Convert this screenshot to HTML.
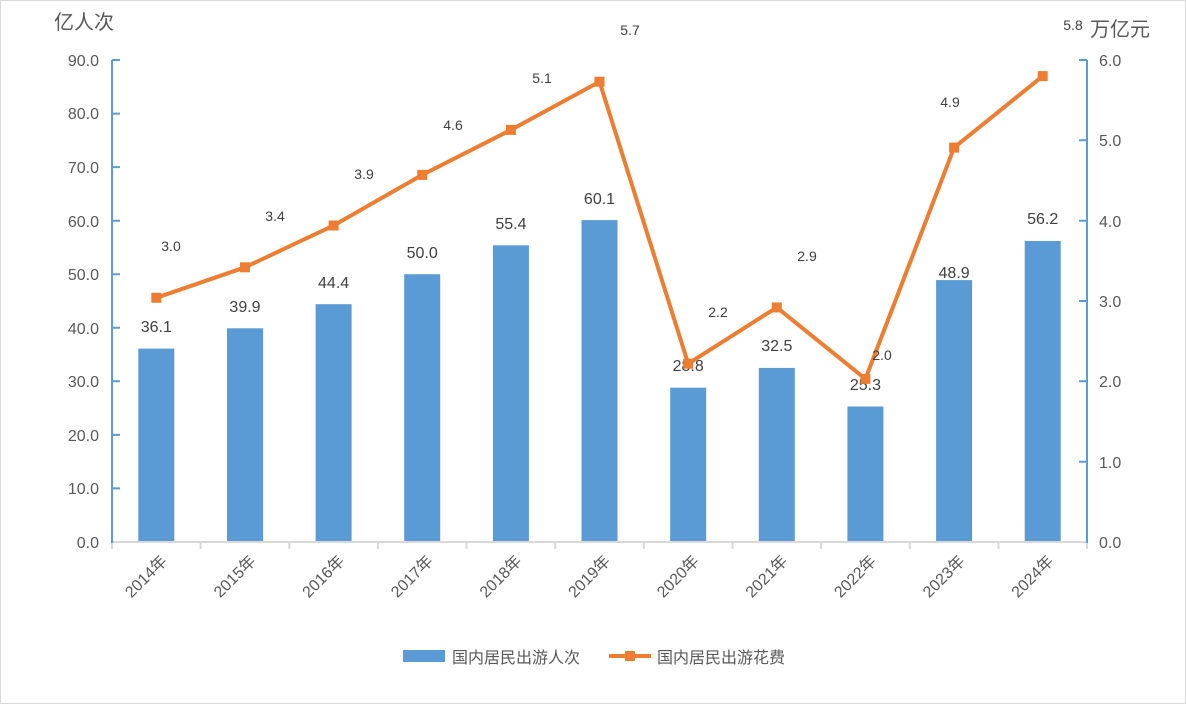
<!DOCTYPE html>
<html><head><meta charset="utf-8"><style>
html,body{margin:0;padding:0;background:#fff}
svg{display:block;font-family:"Liberation Sans","Noto Sans CJK SC",sans-serif}
</style></head><body>
<svg width="1186" height="704" viewBox="0 0 1186 704" xmlns="http://www.w3.org/2000/svg">
<rect x="0.5" y="0.5" width="1185" height="703" fill="#fff" stroke="#d9d9d9"/>
<text x="54" y="29" font-size="20" fill="#595959">亿人次</text>
<text x="1090" y="36" font-size="20" fill="#595959">万亿元</text>
<g font-size="16" fill="#595959" text-anchor="end">
<text x="99" y="548">0.0</text><text x="99" y="494">10.0</text><text x="99" y="441">20.0</text>
<text x="99" y="387">30.0</text><text x="99" y="334">40.0</text><text x="99" y="280">50.0</text>
<text x="99" y="227">60.0</text><text x="99" y="173">70.0</text><text x="99" y="119">80.0</text><text x="99" y="66">90.0</text>
</g>
<g font-size="16" fill="#595959">
<text x="1099" y="548">0.0</text><text x="1099" y="468">1.0</text><text x="1099" y="387">2.0</text>
<text x="1099" y="307">3.0</text><text x="1099" y="227">4.0</text><text x="1099" y="146">5.0</text><text x="1099" y="66">6.0</text>
</g>
<g fill="#5b9bd5">
<rect x="138.3" y="348.6" width="36" height="193.4"/>
<rect x="227" y="328.3" width="36" height="213.7"/>
<rect x="315.6" y="304.2" width="36" height="237.8"/>
<rect x="404.2" y="274.2" width="36" height="267.8"/>
<rect x="492.9" y="245.3" width="36" height="296.7"/>
<rect x="581.5" y="220.1" width="36" height="321.9"/>
<rect x="670.2" y="387.7" width="36" height="154.3"/>
<rect x="758.8" y="367.9" width="36" height="174.1"/>
<rect x="847.4" y="406.5" width="36" height="135.5"/>
<rect x="936.1" y="280.1" width="36" height="261.9"/>
<rect x="1024.7" y="241" width="36" height="301"/>
</g>
<line x1="112" y1="542" x2="1087" y2="542" stroke="#d9d9d9" stroke-width="2"/>
<g stroke="#d9d9d9" stroke-width="2">
<line x1="112" y1="542" x2="112" y2="549"/><line x1="200.6" y1="542" x2="200.6" y2="549"/><line x1="289.3" y1="542" x2="289.3" y2="549"/><line x1="377.9" y1="542" x2="377.9" y2="549"/><line x1="466.5" y1="542" x2="466.5" y2="549"/><line x1="555.2" y1="542" x2="555.2" y2="549"/><line x1="643.8" y1="542" x2="643.8" y2="549"/><line x1="732.5" y1="542" x2="732.5" y2="549"/><line x1="821.1" y1="542" x2="821.1" y2="549"/><line x1="909.8" y1="542" x2="909.8" y2="549"/><line x1="998.4" y1="542" x2="998.4" y2="549"/><line x1="1087" y1="542" x2="1087" y2="549"/>
</g>
<g stroke="#5b9bd5" stroke-width="2">
<line x1="112" y1="60" x2="112" y2="543"/>
<line x1="1087" y1="60" x2="1087" y2="543"/>
<path d="M112 60h8M112 113.6h8M112 167.1h8M112 220.7h8M112 274.2h8M112 327.8h8M112 381.3h8M112 434.9h8M112 488.4h8"/>
<path d="M1087 60h-8M1087 140.3h-8M1087 220.7h-8M1087 301h-8M1087 381.3h-8M1087 461.7h-8"/>
</g>
<g font-size="16" fill="#404040" text-anchor="middle">
<text x="156.3" y="332">36.1</text><text x="245" y="312">39.9</text><text x="333.6" y="288">44.4</text>
<text x="422.2" y="258">50.0</text><text x="510.9" y="229">55.4</text><text x="599.5" y="204">60.1</text>
<text x="688.2" y="371">28.8</text><text x="776.8" y="351">32.5</text><text x="865.4" y="390">25.3</text>
<text x="954.1" y="278">48.9</text><text x="1042.7" y="224">56.2</text>
</g>
<polyline fill="none" stroke="#ed7d31" stroke-width="4" stroke-linejoin="round" points="156.3,297.8 245,267.3 333.6,225.5 422.2,174.9 510.9,129.9 599.5,81.7 688.2,363.7 776.8,307.4 865.4,378.9 954.1,147.6 1042.7,76.1"/>
<g fill="#ed7d31">
<rect x="151.3" y="292.8" width="10" height="10"/><rect x="240" y="262.3" width="10" height="10"/><rect x="328.6" y="220.5" width="10" height="10"/><rect x="417.2" y="169.9" width="10" height="10"/><rect x="505.9" y="124.9" width="10" height="10"/><rect x="594.5" y="76.7" width="10" height="10"/><rect x="683.2" y="358.7" width="10" height="10"/><rect x="771.8" y="302.4" width="10" height="10"/><rect x="860.4" y="373.9" width="10" height="10"/><rect x="949.1" y="142.6" width="10" height="10"/><rect x="1037.7" y="71.1" width="10" height="10"/>
</g>
<g font-size="14" fill="#404040" text-anchor="middle">
<text x="171" y="251">3.0</text><text x="275" y="221">3.4</text><text x="364" y="179">3.9</text>
<text x="453" y="130">4.6</text><text x="542" y="83">5.1</text><text x="630" y="35">5.7</text>
<text x="718" y="317">2.2</text><text x="807" y="261">2.9</text><text x="882" y="360">2.0</text>
<text x="950" y="107">4.9</text><text x="1073" y="30">5.8</text>
</g>
<g font-size="16" fill="#595959" text-anchor="end">
<text transform="translate(168,562) rotate(-45)">2014年</text>
<text transform="translate(256.7,562) rotate(-45)">2015年</text>
<text transform="translate(345.3,562) rotate(-45)">2016年</text>
<text transform="translate(433.9,562) rotate(-45)">2017年</text>
<text transform="translate(522.6,562) rotate(-45)">2018年</text>
<text transform="translate(611.2,562) rotate(-45)">2019年</text>
<text transform="translate(699.9,562) rotate(-45)">2020年</text>
<text transform="translate(788.5,562) rotate(-45)">2021年</text>
<text transform="translate(877.1,562) rotate(-45)">2022年</text>
<text transform="translate(965.8,562) rotate(-45)">2023年</text>
<text transform="translate(1054.4,562) rotate(-45)">2024年</text>
</g>
<rect x="403" y="650" width="42" height="12" fill="#5b9bd5"/>
<text x="452" y="663" font-size="16" fill="#595959">国内居民出游人次</text>
<line x1="609" y1="656" x2="651" y2="656" stroke="#ed7d31" stroke-width="4"/>
<rect x="625" y="651" width="10" height="10" fill="#ed7d31"/>
<text x="657" y="663" font-size="16" fill="#595959">国内居民出游花费</text>
</svg>
</body></html>
